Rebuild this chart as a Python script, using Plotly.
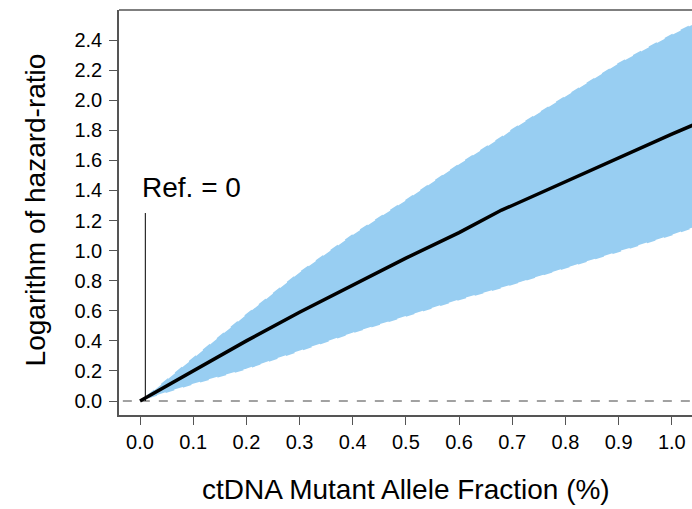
import plotly.graph_objects as go

# Data
x_vals = [0.0, 0.1, 0.2, 0.3, 0.4, 0.5, 0.6, 0.68, 0.7, 0.8, 0.9, 1.0, 1.04]
log_hr = [0.0, 0.20, 0.40, 0.59, 0.77, 0.95, 1.12, 1.27, 1.30, 1.46, 1.62, 1.775, 1.835]
upper = [0.0, 0.29, 0.58, 0.86, 1.11, 1.34, 1.58, 1.76, 1.81, 2.03, 2.25, 2.44, 2.51]
lower = [0.0, 0.11, 0.21, 0.33, 0.45, 0.56, 0.67, 0.75, 0.77, 0.88, 0.99, 1.10, 1.15]
x_ticks = [0.0, 0.1, 0.2, 0.3, 0.4, 0.5, 0.6, 0.7, 0.8, 0.9, 1.0]
y_ticks = [0.0, 0.2, 0.4, 0.6, 0.8, 1.0, 1.2, 1.4, 1.6, 1.8, 2.0, 2.2, 2.4]
ref_x = 0.01
ref_top = 1.25

FONT = "Liberation Sans, Arial, Helvetica, sans-serif"
fig = go.Figure()

# confidence band
fig.add_trace(go.Scatter(x=x_vals + x_vals[::-1], y=upper + lower[::-1],
                         fill="toself", fillcolor="#98CEF2", line=dict(width=0),
                         mode="lines", hoverinfo="skip", showlegend=False))
fig.add_trace(go.Scatter(x=x_vals, y=upper, mode="lines",
                         line=dict(color="white", width=1.5, dash="dash"), showlegend=False))
fig.add_trace(go.Scatter(x=x_vals, y=lower, mode="lines",
                         line=dict(color="white", width=1.5, dash="dash"), showlegend=False))
# zero reference
fig.add_trace(go.Scatter(x=[-0.1, 1.2], y=[0, 0], mode="lines",
                         line=dict(color="#444444", width=1, dash="dash"), showlegend=False))
# main curve
fig.add_trace(go.Scatter(x=x_vals, y=log_hr, mode="lines",
                         line=dict(color="black", width=3.5), showlegend=False))
# reference marker line
fig.add_trace(go.Scatter(x=[ref_x, ref_x], y=[0, ref_top], mode="lines",
                         line=dict(color="black", width=1), showlegend=False))

fig.add_annotation(x=0.0, y=1.42, xref="x", yref="y", text="Ref. = 0", showarrow=False,
                   xanchor="left", yanchor="middle", font=dict(size=28, color="black", family=FONT))

fig.add_annotation(x=-0.146, y=0.506, xref="paper", yref="paper", text="Logarithm of hazard-ratio",
                   textangle=-90, showarrow=False, xanchor="center", yanchor="middle",
                   font=dict(size=28, color="black", family=FONT))
fig.add_annotation(x=0.5, y=-0.185, xref="paper", yref="paper", text="ctDNA Mutant Allele Fraction (%)",
                   showarrow=False, xanchor="center", yanchor="middle",
                   font=dict(size=28, color="black", family=FONT))

fig.update_xaxes(range=[-0.0395, 1.038], tickvals=x_ticks, ticktext=[f"{v:.1f}" for v in x_ticks],
                 showline=True, linecolor="#555555", linewidth=1.5, mirror=False,
                 ticks="outside", ticklen=8, tickcolor="#555555", tickwidth=1,
                 showgrid=False, zeroline=False,
                 tickfont=dict(size=20, color="black", family=FONT))
fig.update_yaxes(range=[-0.093, 2.60], tickvals=y_ticks, ticktext=[f"{v:.1f}" for v in y_ticks],
                 showline=True, linecolor="#555555", linewidth=1.5,
                 ticks="outside", ticklen=8, tickcolor="#555555", tickwidth=1,
                 ticklabelstandoff=3,
                 showgrid=False, zeroline=False,
                 tickfont=dict(size=20, color="black", family=FONT))

# top border line
fig.add_shape(type="line", xref="paper", yref="paper", x0=0, x1=1, y0=1, y1=1,
              line=dict(color="#555555", width=1.5))

fig.update_layout(width=692, height=509, margin=dict(l=119, r=0, t=10, b=94),
                  plot_bgcolor="white", paper_bgcolor="white", showlegend=False)

fig.write_html("out.html", config={"displayModeBar": False},
               post_script="document.body.style.margin='0';")
